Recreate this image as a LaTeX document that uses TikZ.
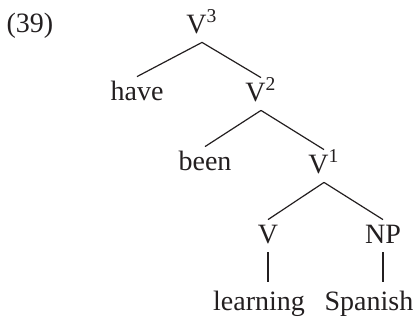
\documentclass[tikz,border=0pt]{standalone}
\usepackage{fontspec}
\setmainfont{Liberation Serif}
\usetikzlibrary{positioning}
\definecolor{treeink}{RGB}{35, 31, 32}

\begin{document}
\begin{tikzpicture}[
    x=0.5pt, y=-0.5pt,
    cat/.style={anchor=base, inner sep=0.5pt, text height=11pt, text depth=4pt, font=\fontsize{14}{17}\selectfont, text=treeink},
    branch/.style={draw=treeink, line width=0.6pt},
    unary/.style={branch, shorten >=2.5pt}
]
\useasboundingbox (0,0) rectangle (416,321);

% === Numero del ejemplo ===
\node[cat] (exnum) at (30, 32) {(39)};

% === Nodos del arbol ===
\node[cat] (v3) at (202, 33) {V\textsuperscript{3}};
\node[cat] (have) at (137, 100) {have};
\node[cat] (v2) at (261, 101) {V\textsuperscript{2}};
\node[cat] (been) at (205, 170) {been};
\node[cat] (v1) at (324, 173) {V\textsuperscript{1}};
\node[cat] (vv) at (268, 243) {V};
\node[cat] (np) at (383, 243) {NP};

% Hojas
\node[cat] (learning) at (259, 310) {learning};
\node[cat] (spanish) at (369, 310) {Spanish};

% === Ramas ===
\draw[branch] (v3.south) -- (have.north);
\draw[branch] (v3.south) -- (v2.north);
\draw[branch] (v2.south) -- (been.north);
\draw[branch] (v2.south) -- (v1.north);
\draw[branch] (v1.south) -- (vv.north);
\draw[branch] (v1.south) -- (np.north);

% Ramas unarias
\draw[unary] (vv.south) -- (vv.south |- learning.north);
\draw[unary] (np.south) -- (np.south |- spanish.north);

\end{tikzpicture}
\end{document}
